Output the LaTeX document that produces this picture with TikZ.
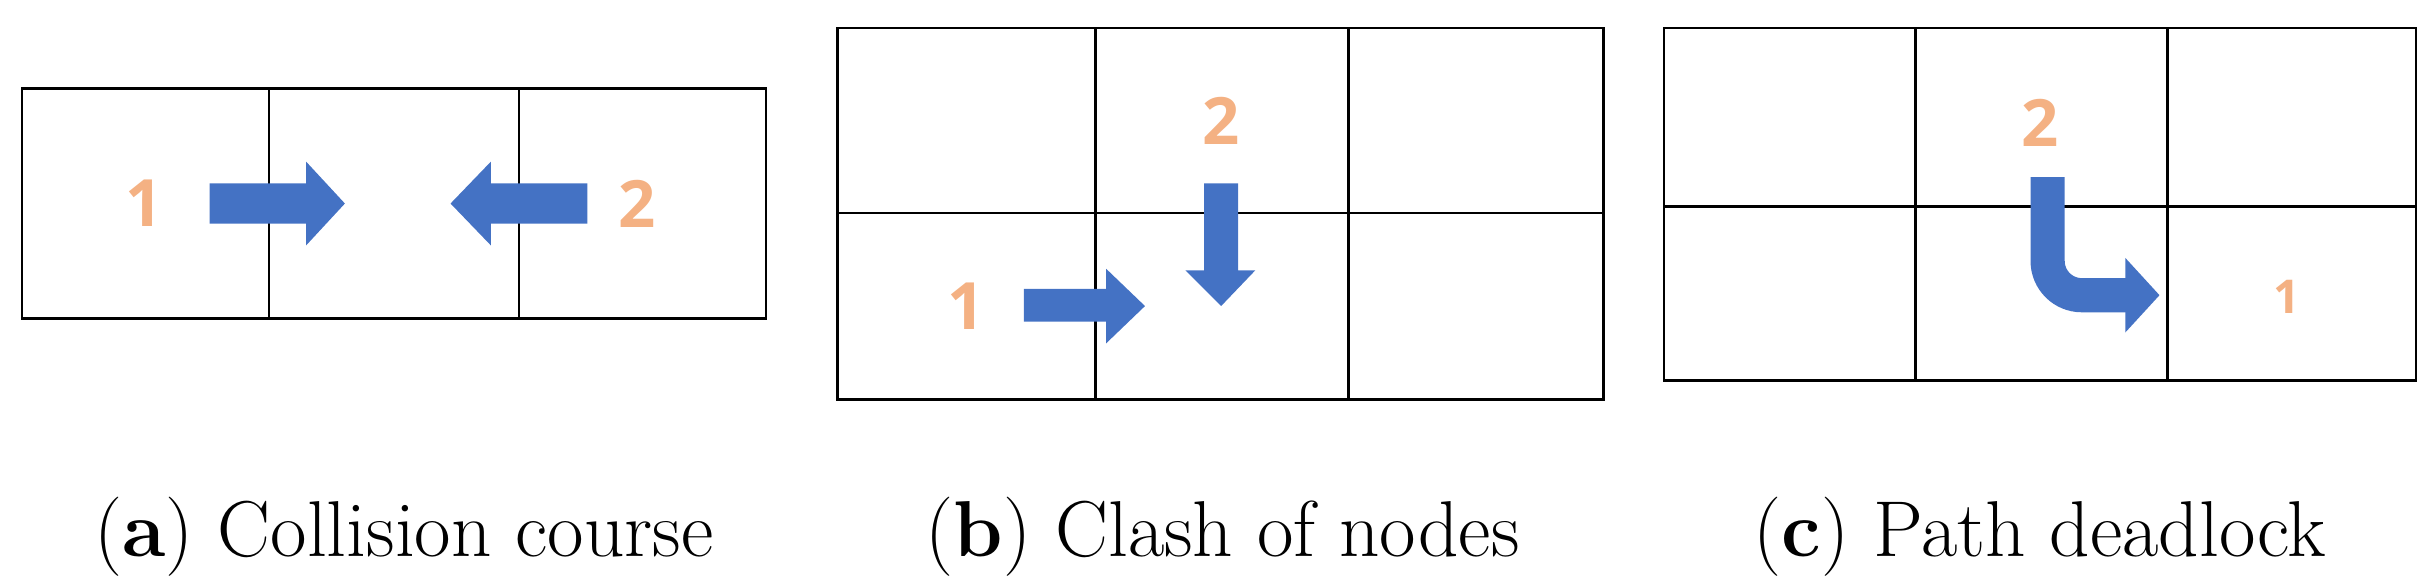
\documentclass[tikz,border=0pt]{standalone}
\usepackage{fontspec}
\newfontfamily\numf{Open Sans}
\definecolor{org}{HTML}{F4B183}
\definecolor{blu}{HTML}{4472C4}
\begin{document}
\begin{tikzpicture}[x=1pt,y=-1pt,
  grid/.style={line width=1.6pt,black},
  num/.style={text=org,font=\numf\bfseries\fontsize{42}{42}\selectfont},
  snum/.style={text=org,font=\numf\bfseries\fontsize{30}{30}\selectfont},
  arr/.style={fill=blu},
  captxt/.style={font=\fontsize{51}{51}\selectfont,anchor=base}]
\useasboundingbox (0,0) rectangle (1568,376);
% (a)
\draw[grid] (14,57) rectangle (493,205);
\draw[grid] (173,57) -- (173,205) (334,57) -- (334,205);
\node[num] (a1) at (93,131) {1};
\node[num] (a2) at (410,131) {2};
\fill[arr] (135,118) -- (197,118) -- (197,104) -- (222,131) -- (197,158) -- (197,144) -- (135,144) -- cycle;
\fill[arr] (378,118) -- (316,118) -- (316,104) -- (290,131) -- (316,158) -- (316,144) -- (378,144) -- cycle;
% (b)
\draw[grid] (539,18) rectangle (1032,257);
\draw[grid] (705,18) -- (705,257) (868,18) -- (868,257) (539,137) -- (1032,137);
\node[num] (b2) at (786,78) {2};
\node[num] (b1) at (622,197) {1};
\fill[arr] (775,118) -- (797,118) -- (797,174) -- (808,174) -- (786,197) -- (763,174) -- (775,174) -- cycle;
\fill[arr] (659,186) -- (712,186) -- (712,173) -- (737,197) -- (712,221) -- (712,207) -- (659,207) -- cycle;
% (c)
\draw[grid] (1071,18) rectangle (1555,245);
\draw[grid] (1233,18) -- (1233,245) (1395,18) -- (1395,245) (1071,133) -- (1555,133);
\node[num] (c2) at (1313,79) {2};
\node[snum] (c1) at (1472,191) {1};
\draw[blu,line width=22pt,rounded corners=22pt] (1318,114) -- (1318,190) -- (1370,190);
\fill[arr] (1368,166) -- (1390,190) -- (1368,214) -- cycle;
% captions
\node[captxt] (ca) at (260,358) {(\textbf{a}) Collision course};
\node[captxt] (cb) at (787,358) {(\textbf{b}) Clash of nodes};
\node[captxt] (cc) at (1313,358) {(\textbf{c}) Path deadlock};
\end{tikzpicture}
\end{document}
